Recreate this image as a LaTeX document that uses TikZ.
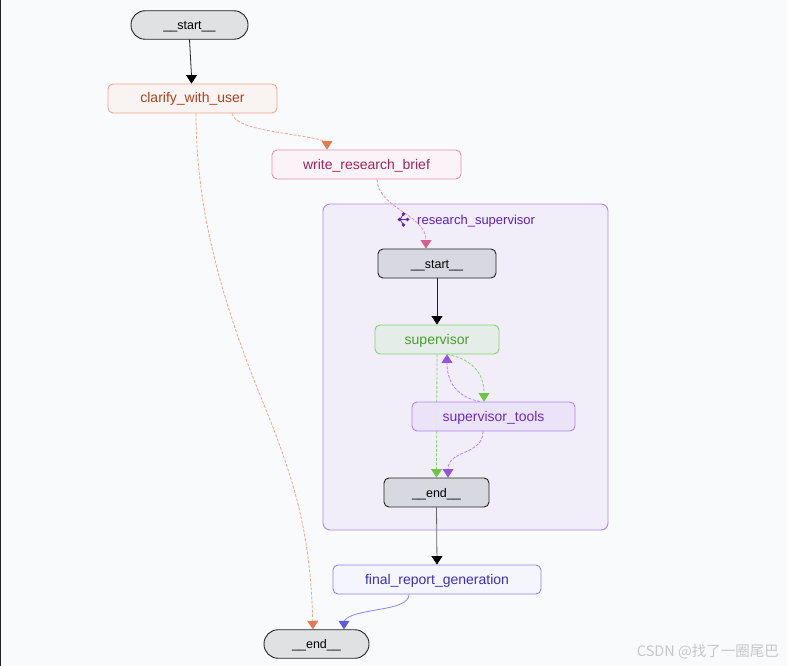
\documentclass[tikz,border=0pt]{standalone}
\usepackage{fontspec}
\setmainfont{Liberation Sans}
\newfontfamily\cjkfont{Noto Sans CJK SC}
\usetikzlibrary{arrows.meta}
\definecolor{pagebg}{HTML}{F9FAFC}
\definecolor{ink}{HTML}{222222}
\definecolor{greyfill}{HTML}{E0E1E3}
\definecolor{subfill}{HTML}{D8D9E0}
\definecolor{orangeline}{HTML}{F0A68C}
\definecolor{orangetip}{HTML}{E07B53}
\definecolor{orangefill}{HTML}{F9F3F2}
\definecolor{orangetext}{HTML}{A8431C}
\definecolor{pinkline}{HTML}{E88DB4}
\definecolor{pinktip}{HTML}{D65F92}
\definecolor{pinkfill}{HTML}{FAF3F7}
\definecolor{pinktext}{HTML}{A3235C}
\definecolor{greenline}{HTML}{84D56C}
\definecolor{greentip}{HTML}{6CC644}
\definecolor{greenfill}{HTML}{E4EDE8}
\definecolor{greentext}{HTML}{4A9E2F}
\definecolor{purpleline}{HTML}{AE86EA}
\definecolor{purpletip}{HTML}{9155E0}
\definecolor{purplefill}{HTML}{EBE4F8}
\definecolor{purpletext}{HTML}{6A2CBF}
\definecolor{clusterfill}{HTML}{F1EEFA}
\definecolor{clustertext}{HTML}{5B21B6}
\definecolor{blueline}{HTML}{8A85EE}
\definecolor{bluetip}{HTML}{5F5BDD}
\definecolor{bluefill}{HTML}{F5F5FE}
\definecolor{bluetext}{HTML}{3A2FB5}
\tikzset{
box/.style={draw, rectangle, rounded corners=5pt, minimum height=29pt, inner sep=0pt, line width=0.9pt, text height=10pt, text depth=1pt, font=\fontsize{14}{16}\selectfont}, % every node of the graph
terminal/.style={box, draw=ink, fill=greyfill, rounded corners=14pt, text=black, minimum height=28.5pt, font=\fontsize{12.5}{15}\selectfont}, % the two outer ends
subterminal/.style={box, draw=ink, fill=subfill, text=black, font=\fontsize{12.5}{15}\selectfont}, % start and end inside the group
flow/.style={line width=0.8pt, draw=#1}, % connector line
fine/.style={dash pattern=on 3pt off 1.5pt}, % the dashes of the conditional edges
tip/.style={-{Triangle[width=11pt, length=8.5pt, color=#1]}}, % filled arrow head
}

\begin{document}
\begin{tikzpicture}[x=1pt, y=-1pt]
        \useasboundingbox (0,0) rectangle (787,666);
        \fill[pagebg] (0,0) rectangle (787,666);
        \fill[ink] (0,0) rectangle (1,666);

        \node[box, draw=purpleline, fill=clusterfill, rounded corners=7pt, minimum width=285pt, minimum height=326pt] (cluster) at (465.5,367) {};

        \node[terminal, minimum width=117pt] (start) at (189.5,25) {\_\_start\_\_};
        \node[box, draw=orangeline, fill=orangefill, text=orangetext, minimum width=169pt] (clarify) at (192.5,98.5) {clarify\_with\_user};
        \node[box, draw=pinkline, fill=pinkfill, text=pinktext, minimum width=189pt] (brief) at (366.5,164.5) {write\_research\_brief};
        \node[subterminal, minimum width=118pt] (substart) at (437,263.5) {\_\_start\_\_};
        \node[box, draw=greenline, fill=greenfill, text=greentext, minimum width=124pt] (supervisor) at (437,339.5) {supervisor};
        \node[subterminal, minimum width=105pt] (subend) at (436.5,492.5) {\_\_end\_\_};

        % runs behind the tools box
        \draw[flow=greenline, fine, tip=greentip] (supervisor.south) -- (subend.north);

        \node[box, draw=purpleline, fill=purplefill, fill opacity=0.9, text opacity=1, text=purpletext, minimum width=163pt] (tools) at (493.5,416.5) {supervisor\_tools};
        \node[box, draw=blueline, fill=bluefill, text=bluetext, minimum width=208pt] (report) at (437,579.5) {final\_report\_generation};
        \node[terminal, minimum width=105pt] (finish) at (316.5,644) {\_\_end\_\_};

        \node[font=\fontsize{13}{15}\selectfont, text=clustertext, anchor=west, inner sep=0pt, text height=10pt, text depth=1pt] (clustertitle) at (417,220) {research\_supervisor};
        \node[font=\fontsize{14.5}{16}\selectfont\cjkfont, text=black!22, anchor=east, inner sep=0pt] (mark) at (779,652) {CSDN @找了一圈尾巴};

        \draw[flow=ink, tip=black] (start.south) -- ([xshift=-1pt, yshift=8pt]clarify.north) -- ([xshift=-1pt]clarify.north);
        \draw[flow=orangeline, fine, tip=orangetip] ([xshift=39.5pt]clarify.south) .. controls +(4,18) and +(-30,-9) .. ([xshift=-39.5pt, yshift=8pt]brief.north) -- ([xshift=-39.5pt]brief.north);
        \draw[flow=orangeline, fine, tip=orangetip] ([xshift=3.5pt]clarify.south) .. controls (196,210) and (222,300) .. (258,390) .. controls (295,480) and (310,530) .. ([xshift=-3.5pt]finish.north);
        \draw[flow=pinkline, fine, tip=pinktip] ([xshift=10.5pt]brief.south) .. controls +(1,29) and +(0,-34) .. ([xshift=-11pt]substart.north);
        \draw[flow=ink, tip=black] (substart.south) -- (supervisor.north);
        \draw[flow=greenline, fine, tip=greentip] ([xshift=10pt]supervisor.south) .. controls +(23,4) and +(0,-30) .. ([xshift=-9.5pt]tools.north);
        \draw[flow=purpleline, fine, tip=purpletip] ([xshift=-13.5pt]tools.north) .. controls +(-20,-4) and +(0,31) .. ([xshift=10pt]supervisor.south);
        \draw[flow=purpleline, fine, tip=purpletip] ([xshift=-10.5pt]tools.south) .. controls +(0,24) and +(0,-28) .. ([xshift=11.5pt]subend.north);
        \draw[flow=ink!70, tip=black] (subend.south) -- (report.north);
        \draw[flow=blueline, tip=bluetip] ([xshift=-28pt]report.south) .. controls +(0,18) and +(8,-14) .. ([xshift=27.5pt, yshift=8pt]finish.north) -- ([xshift=27.5pt]finish.north);

        % group icon
        \draw[line width=0.8pt, draw=clustertext] (403.5,214) -- (400,219.5) -- (403.5,225) (400,219.5) -- (407,219.5);
        \foreach \dotx/\doty in {403.5/214, 399.5/219.5, 407.5/219.5, 403.5/225}
          \fill[clustertext] (\dotx,\doty) circle (1.9pt);
\end{tikzpicture}
\end{document}
